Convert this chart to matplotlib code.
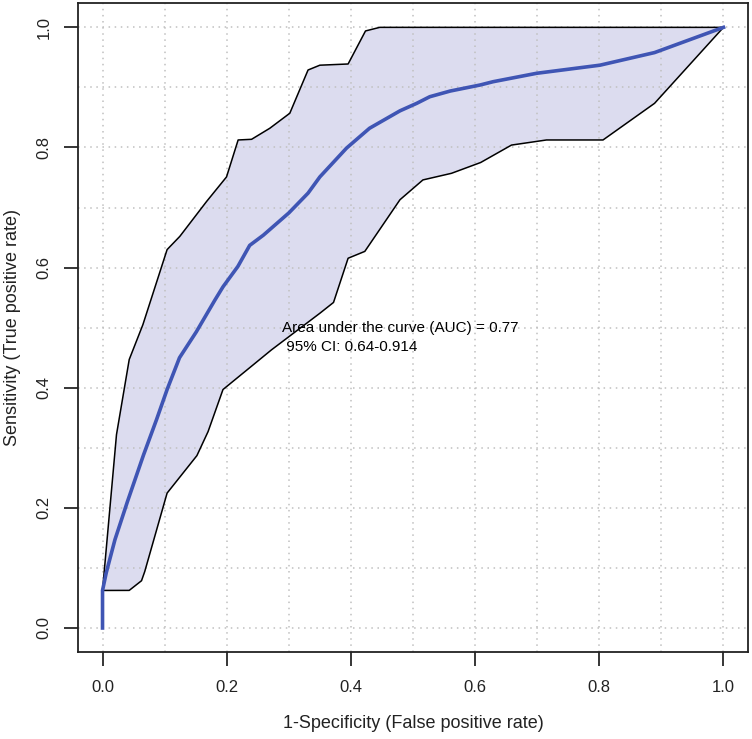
import numpy as np
import matplotlib.pyplot as plt

# ROC curve
fpr = [0, 0, 0.006, 0.02, 0.04, 0.066, 0.087, 0.104, 0.124, 0.151, 0.181, 0.194,
       0.218, 0.237, 0.259, 0.30, 0.331, 0.35, 0.393, 0.43, 0.479, 0.506, 0.527,
       0.56, 0.608, 0.629, 0.699, 0.801, 0.889, 1.0]
tpr = [0, 0.0625, 0.092, 0.147, 0.21, 0.288, 0.347, 0.397, 0.45, 0.493, 0.546, 0.568,
       0.602, 0.637, 0.654, 0.691, 0.724, 0.751, 0.799, 0.832, 0.861, 0.8735, 0.8845,
       0.894, 0.904, 0.9095, 0.9235, 0.937, 0.958, 1.0]

# upper bound of the 95% CI band
upper_x = [0, 0.0225, 0.043, 0.065, 0.104, 0.1245, 0.1675, 0.1997, 0.2184, 0.240,
           0.2694, 0.3016, 0.331, 0.35, 0.3955, 0.4235, 0.4465, 1.0]
upper_y = [0.0625, 0.322, 0.447, 0.505, 0.63, 0.652, 0.71, 0.751, 0.8125, 0.8136,
           0.832, 0.857, 0.929, 0.937, 0.939, 0.994, 1.0, 1.0]

# lower bound of the 95% CI band
lower_x = [0, 0.043, 0.0628, 0.068, 0.104, 0.152, 0.170, 0.194, 0.2425, 0.272, 0.35,
           0.372, 0.3955, 0.4224, 0.479, 0.516, 0.562, 0.609, 0.6586, 0.715, 0.806,
           0.889, 1.0]
lower_y = [0.0625, 0.0626, 0.0787, 0.094, 0.2246, 0.287, 0.327, 0.397, 0.438, 0.463,
           0.524, 0.542, 0.6156, 0.627, 0.713, 0.746, 0.757, 0.775, 0.804, 0.8125,
           0.8125, 0.8735, 1.0]

auc_text = "Area under the curve (AUC) = 0.77\n 95% CI: 0.64-0.914"
ticks = [0.0, 0.2, 0.4, 0.6, 0.8, 1.0]
tick_labels = ["0.0", "0.2", "0.4", "0.6", "0.8", "1.0"]

plt.rcParams['font.family'] = ['Liberation Sans', 'DejaVu Sans']

W, H = 752, 739
fig = plt.figure(figsize=(W / 100, H / 100), dpi=100)
ax = fig.add_axes([0.1033, 0.1177, 0.8918, 0.8778])

# CI band
band_x = np.concatenate([upper_x, lower_x[::-1]])
band_y = np.concatenate([upper_y, lower_y[::-1]])
ax.fill(band_x, band_y, color='#dcdcef', linewidth=0, zorder=1)
ax.plot(upper_x, upper_y, color='black', linewidth=1.1, zorder=2)
ax.plot(lower_x, lower_y, color='black', linewidth=1.1, zorder=2)

# ROC curve
ax.plot(fpr, tpr, color='#3f55b4', linewidth=2.6, zorder=3)

ax.text(0.289, 0.484, auc_text, fontsize=11, ha='left', va='center',
        linespacing=1.5, zorder=4)

ax.set_xlim(-0.04, 1.04)
ax.set_ylim(-0.04, 1.04)
ax.set_xticks(ticks)
ax.set_xticklabels(tick_labels)
ax.set_yticks(ticks)
ax.set_yticklabels(tick_labels, rotation=90, va='center')
ax.set_xticks(np.arange(0, 1.01, 0.1), minor=True)
ax.set_yticks(np.arange(0, 1.01, 0.1), minor=True)
ax.tick_params(axis='both', which='major', labelsize=12, length=10, width=1.1,
               labelcolor='#222222')
ax.tick_params(axis='x', which='major', pad=10)
ax.tick_params(axis='y', which='major', pad=9)
ax.tick_params(which='minor', length=0)
ax.grid(True, which='both', color='#c0c0c0', linestyle=(0, (1, 3)), linewidth=1.1)
for s in ax.spines.values():
    s.set_linewidth(1.3)
    s.set_color('#222222')

fig.text(413 / W, 1 - 724 / H, '1-Specificity (False positive rate)', fontsize=13,
         ha='center', va='center', color='#222222')
fig.text(13 / W, 1 - 328 / H, 'Sensitivity (True positive rate)', fontsize=13,
         ha='center', va='center', rotation=90, color='#222222')

fig.savefig('out.png', dpi=100)
